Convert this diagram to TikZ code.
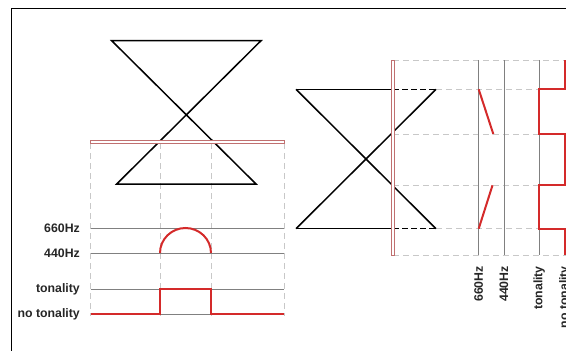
\documentclass[tikz,border=0pt]{standalone}
\usepackage{fontspec}
\setmainfont{Liberation Sans}
\definecolor{sigred}{HTML}{D42A2A}
\definecolor{barred}{HTML}{C07070}
\definecolor{guide}{HTML}{C8C8C8}
\definecolor{axis}{HTML}{808080}
\tikzset{
  frame/.style={black, line width=1pt},
  glass/.style={black, line width=1.5pt, line join=miter},
  guideline/.style={guide, line width=0.8pt, dash pattern=on 6pt off 4pt},
  axisline/.style={axis, line width=1pt},
  signal/.style={sigred, line width=2pt},
  redbar/.style={barred, line width=0.8pt, fill=white},
  lbl/.style={font=\fontsize{12.3}{13}\selectfont\bfseries, text=black!85, inner sep=0pt},
}
\begin{document}
\begin{tikzpicture}[x=1pt,y=-1pt]
\useasboundingbox (0,0) rectangle (566,351);
% frame
\draw[frame] (11,380) -- (11,8) -- (600,8);

% ===== left figure =====
\foreach \x in {90.7,160,211,284.3}
  \draw[guideline] (\x,143) -- (\x,316);
\foreach \y in {228,253,289,314}
  \draw[axisline] (90.7,\y) -- (284.3,\y);
\draw[glass] (111.7,40.7) -- (261,40.7) -- (116.7,184) -- (256,184) -- cycle;
\draw[redbar] (90.7,140) rectangle (284.3,143);
\draw[signal] (160,253) arc[start angle=180, end angle=0, x radius=25.5, y radius=-25];
\draw[signal] (90.7,314) -- (160,314) -- (160,289) -- (211,289) -- (211,314) -- (284.3,314);
\node[lbl, anchor=east] (l660) at (80,228) {660Hz};
\node[lbl, anchor=east] (l440) at (80,253) {440Hz};
\node[lbl, anchor=east] (lton) at (80,289) {tonality};
\node[lbl, anchor=east] (lnot) at (80,314) {no tonality};

% ===== right figure =====
\foreach \y in {60,134,185,255}
  \draw[guideline] (393,\y) -- (566,\y);
\foreach \y in {89.3,228.7}
  \draw[guideline] (436,\y) -- (566,\y);
\foreach \x in {478.7,504,539.3}
  \draw[axisline] (\x,60) -- (\x,255);
\draw[glass] (296,89.3) -- (392,89.3);
\draw[glass] (296,228.7) -- (392,228.7);
\draw[glass, dash pattern=on 6pt off 3pt] (393,89.3) -- (436,89.3);
\draw[glass, dash pattern=on 6pt off 3pt] (393,228.7) -- (436,228.7);
\draw[glass] (296,89.3) -- (436,228.7);
\draw[glass] (296,228.7) -- (436,89.3);
\draw[redbar] (391.3,60) rectangle (394.3,255);
\draw[signal] (478.7,89.3) -- (493.3,134);
\draw[signal] (478.7,228.7) -- (492.5,185.3);
\draw[signal] (565,60) -- (565,89.3) -- (539.3,89.3) -- (539.3,134) -- (565,134) -- (565,185.3) -- (539.3,185.3) -- (539.3,228.7) -- (565,228.7) -- (565,255);
\node[lbl, rotate=90, anchor=east] (r660) at (478.7,266) {660Hz};
\node[lbl, rotate=90, anchor=east] (r440) at (504,266) {440Hz};
\node[lbl, rotate=90, anchor=east] (rton) at (539.3,266) {tonality};
\node[lbl, rotate=90, anchor=east] (rnot) at (565,266) {no tonality};
\end{tikzpicture}
\end{document}
